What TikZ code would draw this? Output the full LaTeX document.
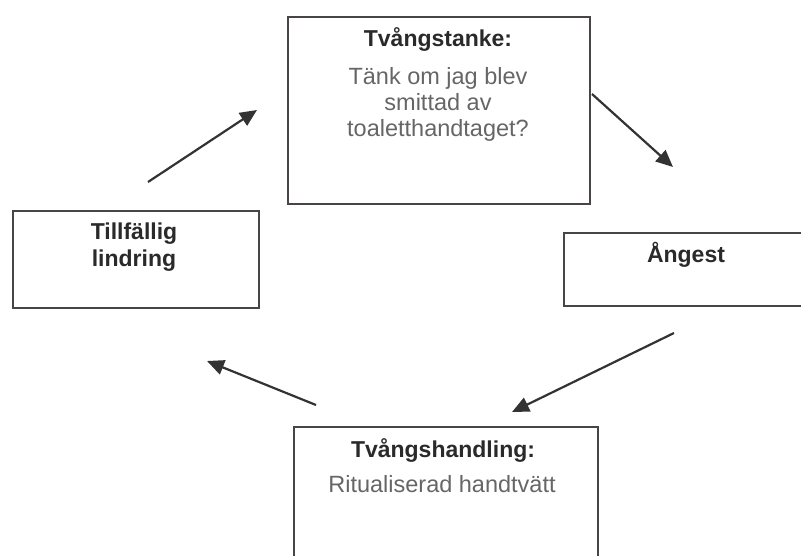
\documentclass[tikz,border=0pt]{standalone}
\usepackage{fontspec}
\setmainfont{Liberation Sans}
\usetikzlibrary{arrows.meta}
\definecolor{boxline}{HTML}{4A4545}
\definecolor{titletext}{HTML}{2A2A2A}
\definecolor{bodytext}{HTML}{666666}
\definecolor{arrowcol}{HTML}{333333}
\tikzset{
  box/.style={draw=boxline, line width=1.8pt, fill=white, inner sep=0pt, anchor=north west},
  titlelbl/.style={font=\fontsize{23}{26}\selectfont\bfseries, text=titletext, anchor=base, inner sep=0pt},
  bodylbl/.style={font=\fontsize{23.5}{26}\selectfont, text=bodytext, anchor=base, inner sep=0pt},
  flow/.style={draw=arrowcol, line width=2.2pt, -{Triangle[length=17pt,width=15pt]}}
}
\begin{document}
\begin{tikzpicture}[x=1pt,y=-1pt]
\useasboundingbox (0,0) rectangle (801,555);
\clip (0,0) rectangle (801,555);
% boxes
\node[box, minimum width=302pt, minimum height=187pt] (topbox) at (287,16) {};
\node[box, minimum width=246pt, minimum height=97pt] (leftbox) at (12,210) {};
\node[box, minimum width=270pt, minimum height=73pt] (rightbox) at (563,232) {};
\node[box, minimum width=304pt, minimum height=160pt] (bottombox) at (293,426) {};
% texts
\node[titlelbl] (t1) at (438,46) {Tvångstanke:};
\node[bodylbl] (t2) at (438,84) {Tänk om jag blev};
\node[bodylbl] (t3) at (438,110) {smittad av};
\node[bodylbl] (t4) at (438,136) {toaletthandtaget?};
\node[titlelbl] (l1) at (134,239) {Tillfällig};
\node[titlelbl] (l2) at (134,266) {lindring};
\node[titlelbl] (r1) at (686,262) {Ångest};
\node[titlelbl] (b1) at (443,457) {Tvångshandling:};
\node[bodylbl] (b2) at (442,492) {Ritualiserad handtvätt};
% arrows
\coordinate (a1s) at (148,182); \coordinate (a1e) at (257,110);
\coordinate (a2s) at (592,94);  \coordinate (a2e) at (673,167);
\coordinate (a3s) at (674,333); \coordinate (a3e) at (512,412);
\coordinate (a4s) at (316,405); \coordinate (a4e) at (207,361);
\draw[flow] (a1s) -- (a1e);
\draw[flow] (a2s) -- (a2e);
\draw[flow] (a3s) -- (a3e);
\draw[flow] (a4s) -- (a4e);
\end{tikzpicture}
\end{document}
